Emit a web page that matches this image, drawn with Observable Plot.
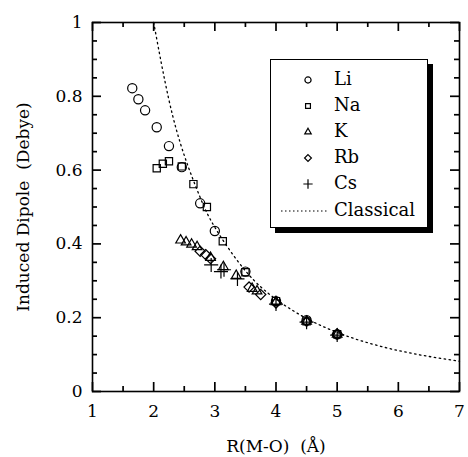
<!DOCTYPE html>
<html><head><meta charset="utf-8">
<script src="https://cdn.jsdelivr.net/npm/d3@7"></script>
<script src="https://cdn.jsdelivr.net/npm/@observablehq/plot@0.6"></script>
<style>
body{margin:0;background:#fff;}
#wrap{position:relative;width:468px;height:457px;}
#legend{position:absolute;left:270px;top:59px;width:156px;height:167px;border:1.5px solid #000;background:#fff;box-shadow:5px 5px 0 #000;font-family:"DejaVu Serif",serif;font-size:18px;color:#000;}
#legend .row{position:absolute;left:0;height:24px;width:156px;}
#legend svg{position:absolute;left:0;top:0;}
#legend span{position:absolute;left:63px;top:0px;line-height:22px;}
</style></head><body><div id="wrap"></div>
<script>
// Data
const species = ["Li", "Na", "K", "Rb", "Cs"];
const symbols = ["circle", "square2", "triangle2", "diamond2", "plus"];

const liR = [1.65, 1.75, 1.86, 2.05, 2.25, 2.46, 2.76, 3.0, 3.5, 4.0, 4.5, 5.0];
const liV = [0.822, 0.792, 0.762, 0.716, 0.665, 0.608, 0.51, 0.435, 0.325, 0.245, 0.193, 0.155];
const naR = [2.05, 2.15, 2.25, 2.46, 2.65, 2.87, 3.13, 3.5, 4.0, 4.5, 5.0];
const naV = [0.605, 0.617, 0.624, 0.61, 0.562, 0.5, 0.407, 0.323, 0.245, 0.19, 0.155];
const kR = [2.44, 2.53, 2.62, 2.71, 2.93, 3.14, 3.35, 3.61, 3.69, 4.0, 4.5, 5.0];
const kV = [0.41, 0.405, 0.399, 0.392, 0.363, 0.338, 0.314, 0.279, 0.272, 0.243, 0.19, 0.155];
const rbR = [2.76, 2.85, 2.93, 3.56, 3.75, 4.0, 4.5, 5.0];
const rbV = [0.38, 0.371, 0.36, 0.283, 0.263, 0.24, 0.19, 0.155];
const csR = [2.94, 3.1, 3.15, 3.37, 4.0, 4.5, 5.0];
const csV = [0.343, 0.325, 0.33, 0.305, 0.237, 0.188, 0.153];

const classicalR = [2.0, 2.25, 2.5, 2.75, 3.0, 3.5, 4.0, 4.5, 5.0, 5.5, 6.0, 6.5, 7.0];
const classicalV = [1.0, 0.79, 0.64, 0.53, 0.445, 0.327, 0.25, 0.198, 0.16, 0.132, 0.111, 0.095, 0.082];

const xMajor = [1, 2, 3, 4, 5, 6, 7];
const xMinor = [1.5, 2.5, 3.5, 4.5, 5.5, 6.5];
const yMajor = [0, 0.2, 0.4, 0.6, 0.8, 1];
const yMinor = [0.05, 0.1, 0.15, 0.25, 0.3, 0.35, 0.45, 0.5, 0.55, 0.65, 0.7, 0.75, 0.85, 0.9, 0.95];

const seriesR = [liR, naR, kR, rbR, csR];
const seriesV = [liV, naV, kV, rbV, csV];
const points = [];
species.forEach((s, i) => seriesR[i].forEach((r, j) => points.push({species: s, r, v: seriesV[i][j]})));
const classical = classicalR.map((r, i) => ({r, v: classicalV[i]}));

const W = 468, H = 457, mL = 92, mR = 9, mT = 22, mB = 66;
const pw = W - mL - mR, ph = H - mT - mB;
const major = 9, minor = 5;
const tk = {stroke: "black", strokeWidth: 1.7};

const chart = Plot.plot({
  width: W, height: H,
  marginLeft: mL, marginRight: mR, marginTop: mT, marginBottom: mB,
  style: {fontFamily: "'DejaVu Serif', serif", fontSize: "17px", background: "white", color: "black"},
  x: {domain: [1, 7]},
  y: {domain: [0, 1]},
  symbol: {domain: species, range: symbols},
  marks: [
    Plot.line(classical, {x: "r", y: "v", curve: "natural", stroke: "black", strokeWidth: 1.3, strokeDasharray: "1.5,3.5"}),
    Plot.dot(points, {x: "r", y: "v", symbol: "species", r: 4.6, stroke: "black", strokeWidth: 1.2, fill: "none"}),
    // inward ticks on all four sides
    Plot.tickX(xMajor, {x: d => d, insetTop: ph - major, ...tk}),
    Plot.tickX(xMinor, {x: d => d, insetTop: ph - minor, ...tk}),
    Plot.tickX(xMajor, {x: d => d, insetBottom: ph - major, ...tk}),
    Plot.tickX(xMinor, {x: d => d, insetBottom: ph - minor, ...tk}),
    Plot.tickY(yMajor, {y: d => d, insetRight: pw - major, ...tk}),
    Plot.tickY(yMinor, {y: d => d, insetRight: pw - minor, ...tk}),
    Plot.tickY(yMajor, {y: d => d, insetLeft: pw - major, ...tk}),
    Plot.tickY(yMinor, {y: d => d, insetLeft: pw - minor, ...tk}),
    Plot.axisX({anchor: "bottom", ticks: xMajor, tickSize: 0, tickPadding: 13, tickFormat: d => `${d}`, label: "R(M-O)  (Å)", labelAnchor: "center", labelArrow: false, labelOffset: 60}),
    Plot.axisY({anchor: "left", ticks: yMajor, tickSize: 0, tickPadding: 10, tickFormat: d => `${d}`, label: "Induced Dipole  (Debye)", labelAnchor: "center", labelArrow: false, labelOffset: 76}),
    Plot.frame({stroke: "black", strokeWidth: 1.6})
  ]
});
d3.select(chart).selectAll("text").attr("xml:space", "preserve").style("white-space", "pre");
const wrap = document.getElementById("wrap");
wrap.appendChild(chart);

// Legend overlay
const legend = document.createElement("div");
legend.id = "legend";
wrap.appendChild(legend);
const legendLabels = [...species, "Classical"];
const rowTops = [8, 34, 60, 86, 112, 139];
const symMap = {circle: d3.symbolCircle, square2: d3.symbolSquare2, triangle2: d3.symbolTriangle2, diamond2: d3.symbolDiamond2, plus: d3.symbolPlus};
legendLabels.forEach((lab, i) => {
  const row = document.createElement("div");
  row.className = "row";
  row.style.top = rowTops[i] + "px";
  const svg = d3.create("svg").attr("width", 60).attr("height", 24);
  if (i < species.length) {
    svg.append("path")
      .attr("transform", "translate(37,12)")
      .attr("d", d3.symbol(symMap[symbols[i]], 30)())
      .attr("fill", "none").attr("stroke", "black").attr("stroke-width", 1.2);
  } else {
    svg.append("line").attr("x1", 10).attr("x2", 57).attr("y1", 12).attr("y2", 12)
      .attr("stroke", "black").attr("stroke-width", 1.2).attr("stroke-dasharray", "1.5,2.5");
  }
  row.appendChild(svg.node());
  const span = document.createElement("span");
  span.textContent = lab;
  row.appendChild(span);
  legend.appendChild(row);
});
</script>
</body></html>
